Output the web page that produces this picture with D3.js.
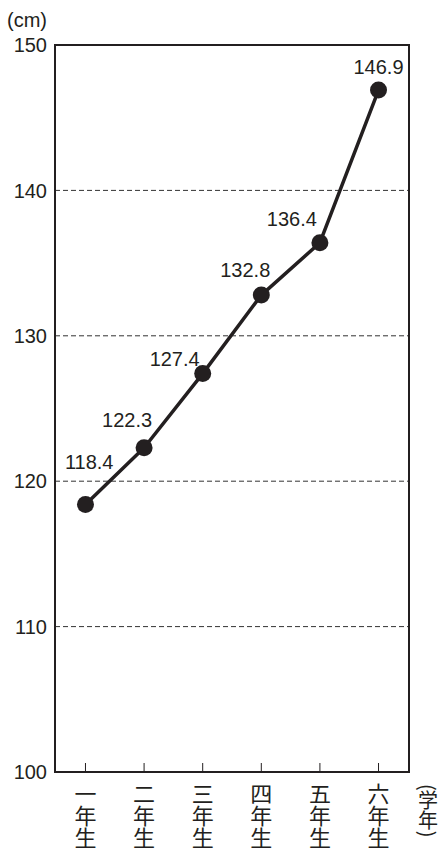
<!DOCTYPE html>
<html lang="ja">
<head>
<meta charset="UTF-8">
<title>身長の変化</title>
<script src="https://d3js.org/d3.v7.min.js"></script>
<style>
  body { margin: 0; background: #fff; }
  svg text { fill: #231f20; }
  .num { font-family: "Liberation Sans", Arial, sans-serif; font-size: 20px; }
  .cjk { font-family: "Noto Sans CJK JP", sans-serif; font-size: 22px; writing-mode: vertical-rl; }
</style>
</head>
<body>
<div id="chart"></div>
<script>
// data
const grades = ["一年生", "二年生", "三年生", "四年生", "五年生", "六年生"];
const heights = [118.4, 122.3, 127.4, 132.8, 136.4, 146.9];
const yTicks = [100, 110, 120, 130, 140, 150];
const gridTicks = [110, 120, 130, 140];

const W = 441, H = 848;
const plotL = 55, plotR = 409, plotT = 45, plotB = 772;

const svg = d3.select("#chart").append("svg")
  .attr("width", W).attr("height", H);

const x = d3.scaleBand().domain(grades).range([plotL, plotR]).paddingInner(0).paddingOuter(0.02);
const y = d3.scaleLinear().domain([100, 150]).range([plotB, plotT]);
const cx = d => x(d) + x.bandwidth() / 2;

// dashed grid
svg.append("g").selectAll("line").data(gridTicks).enter().append("line")
  .attr("x1", plotL).attr("x2", plotR)
  .attr("y1", d => y(d)).attr("y2", d => y(d))
  .attr("stroke", "#333").attr("stroke-width", 1)
  .attr("stroke-dasharray", "5,3");

// frame
svg.append("rect")
  .attr("x", plotL).attr("y", plotT)
  .attr("width", plotR - plotL).attr("height", plotB - plotT)
  .attr("fill", "none").attr("stroke", "#231f20").attr("stroke-width", 2);

// y labels
svg.append("g").selectAll("text").data(yTicks).enter().append("text")
  .attr("class", "num")
  .attr("x", plotL - 8).attr("y", d => y(d))
  .attr("dy", "0.36em")
  .attr("text-anchor", "end")
  .text(d => d);

svg.append("text").attr("class", "num")
  .attr("x", 7).attr("y", 27).text("(cm)");

// x ticks (inside)
svg.append("g").selectAll("line").data(grades).enter().append("line")
  .attr("x1", d => cx(d)).attr("x2", d => cx(d))
  .attr("y1", plotB - 9).attr("y2", plotB)
  .attr("stroke", "#231f20").attr("stroke-width", 1);

// x labels, vertical
svg.append("g").selectAll("text").data(grades).enter().append("text")
  .attr("class", "cjk")
  .attr("x", d => cx(d)).attr("y", 783)
  .text(d => d);

svg.append("text").attr("class", "cjk")
  .style("font-size", "20px")
  .attr("x", 428).attr("y", 784).text("(学年)");

// line + points
const line = d3.line().x((d, i) => cx(grades[i])).y(d => y(d));
svg.append("path").datum(heights)
  .attr("d", line)
  .attr("fill", "none").attr("stroke", "#231f20")
  .attr("stroke-width", 3.5).attr("stroke-linejoin", "round");

svg.append("g").selectAll("circle").data(heights).enter().append("circle")
  .attr("cx", (d, i) => cx(grades[i])).attr("cy", d => y(d))
  .attr("r", 8.5).attr("fill", "#231f20");

// value labels (end anchor offset, baseline offset)
const labelOff = [[28, -35], [8, -21], [-3, -8], [9, -18], [-3, -17], [25, -16]];
svg.append("g").selectAll("text").data(heights).enter().append("text")
  .attr("class", "num")
  .attr("text-anchor", "end")
  .attr("x", (d, i) => cx(grades[i]) + labelOff[i][0])
  .attr("y", (d, i) => y(d) + labelOff[i][1])
  .text(d => d.toFixed(1));
</script>
</body>
</html>
